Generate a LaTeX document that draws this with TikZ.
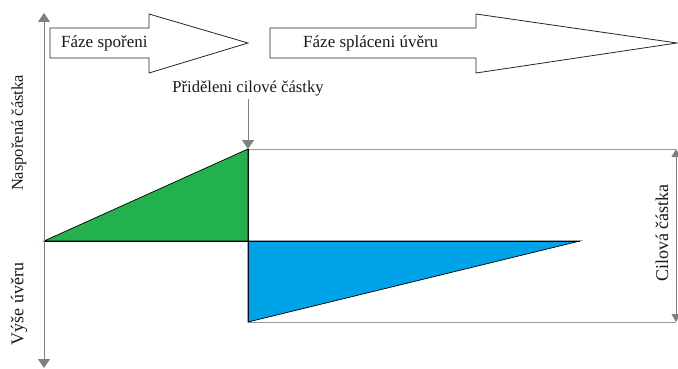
\documentclass[tikz,border=0pt]{standalone}
\usepackage{fontspec}
\setmainfont{Liberation Serif}
\usetikzlibrary{arrows.meta}
\definecolor{axgray}{RGB}{128,128,128}
\definecolor{savegreen}{RGB}{34,177,76}
\definecolor{loanblue}{RGB}{0,162,232}
\tikzset{
  axis/.style={draw=axgray, line width=1pt, -{Triangle[length=9pt,width=12pt]}},
  frame/.style={draw=axgray!80, line width=0.9pt},
  blockarrow/.style={draw=black!85, line width=0.8pt, fill=white},
  lbl/.style={font=\fontsize{17}{19}\selectfont, inner sep=0pt, text=black!90},
}
\begin{document}
\begin{tikzpicture}[x=1pt,y=-1pt]
\useasboundingbox (0,0) rectangle (678,369);
% coordinates
\coordinate (o) at (44,241);
\coordinate (top) at (44,13);
\coordinate (bot) at (44,368);
\coordinate (g1) at (248,149);
\coordinate (g2) at (248,241);
\coordinate (b1) at (248,322);
\coordinate (b2) at (580,241);
\coordinate (r1) at (676,149);
\coordinate (r2) at (676,322);
% frame lines
\draw[frame] (g1) -- (r1);
\draw[frame] (b1) -- (r2);
\draw[axgray, line width=0.9pt, {Triangle[length=8pt,width=9pt]}-{Triangle[length=8pt,width=9pt]}] (r1) -- (r2);
% triangles
\fill[savegreen, draw=black, line width=0.7pt] (o) -- (g1) -- (g2) -- cycle;
\fill[loanblue, draw=black, line width=0.7pt] (g2) -- (b1) -- (b2) -- cycle;
\draw[black, line width=0.8pt] (o) -- (b2);
\draw[black, line width=0.8pt] (g1) -- (b1);
% axes
\draw[axis] (o) -- (top);
\draw[axis] (o) -- (bot);
% block arrows
\draw[blockarrow] (50,28) -- (149,28) -- (149,14) -- (248,43) -- (149,73) -- (149,58) -- (50,58) -- cycle;
\draw[blockarrow] (270,28) -- (476,28) -- (476,14) -- (677,43) -- (476,73) -- (476,58) -- (270,58) -- cycle;
\node[lbl, anchor=west] (f1) at (61,43) {Fáze spořeni};
\node[lbl, anchor=west] (f2) at (303,43) {Fáze spláceni úvěru};
% allocation
\node[lbl, font=\fontsize{16.6}{18}\selectfont] (alloc) at (248,89) {Přiděleni cilové částky};
\draw[axis] (alloc.south |- 0,99) -- (g1);
% side labels
\node[lbl, rotate=90, font=\fontsize{16.5}{18}\selectfont] (nas) at (19,133) {Naspořená částka};
\node[lbl, rotate=90, font=\fontsize{18}{20}\selectfont] (vys) at (19,304) {Výše úvěru};
\node[lbl, rotate=90, font=\fontsize{18}{20}\selectfont] (cil) at (662,233) {Cilová částka};
\end{tikzpicture}
\end{document}
